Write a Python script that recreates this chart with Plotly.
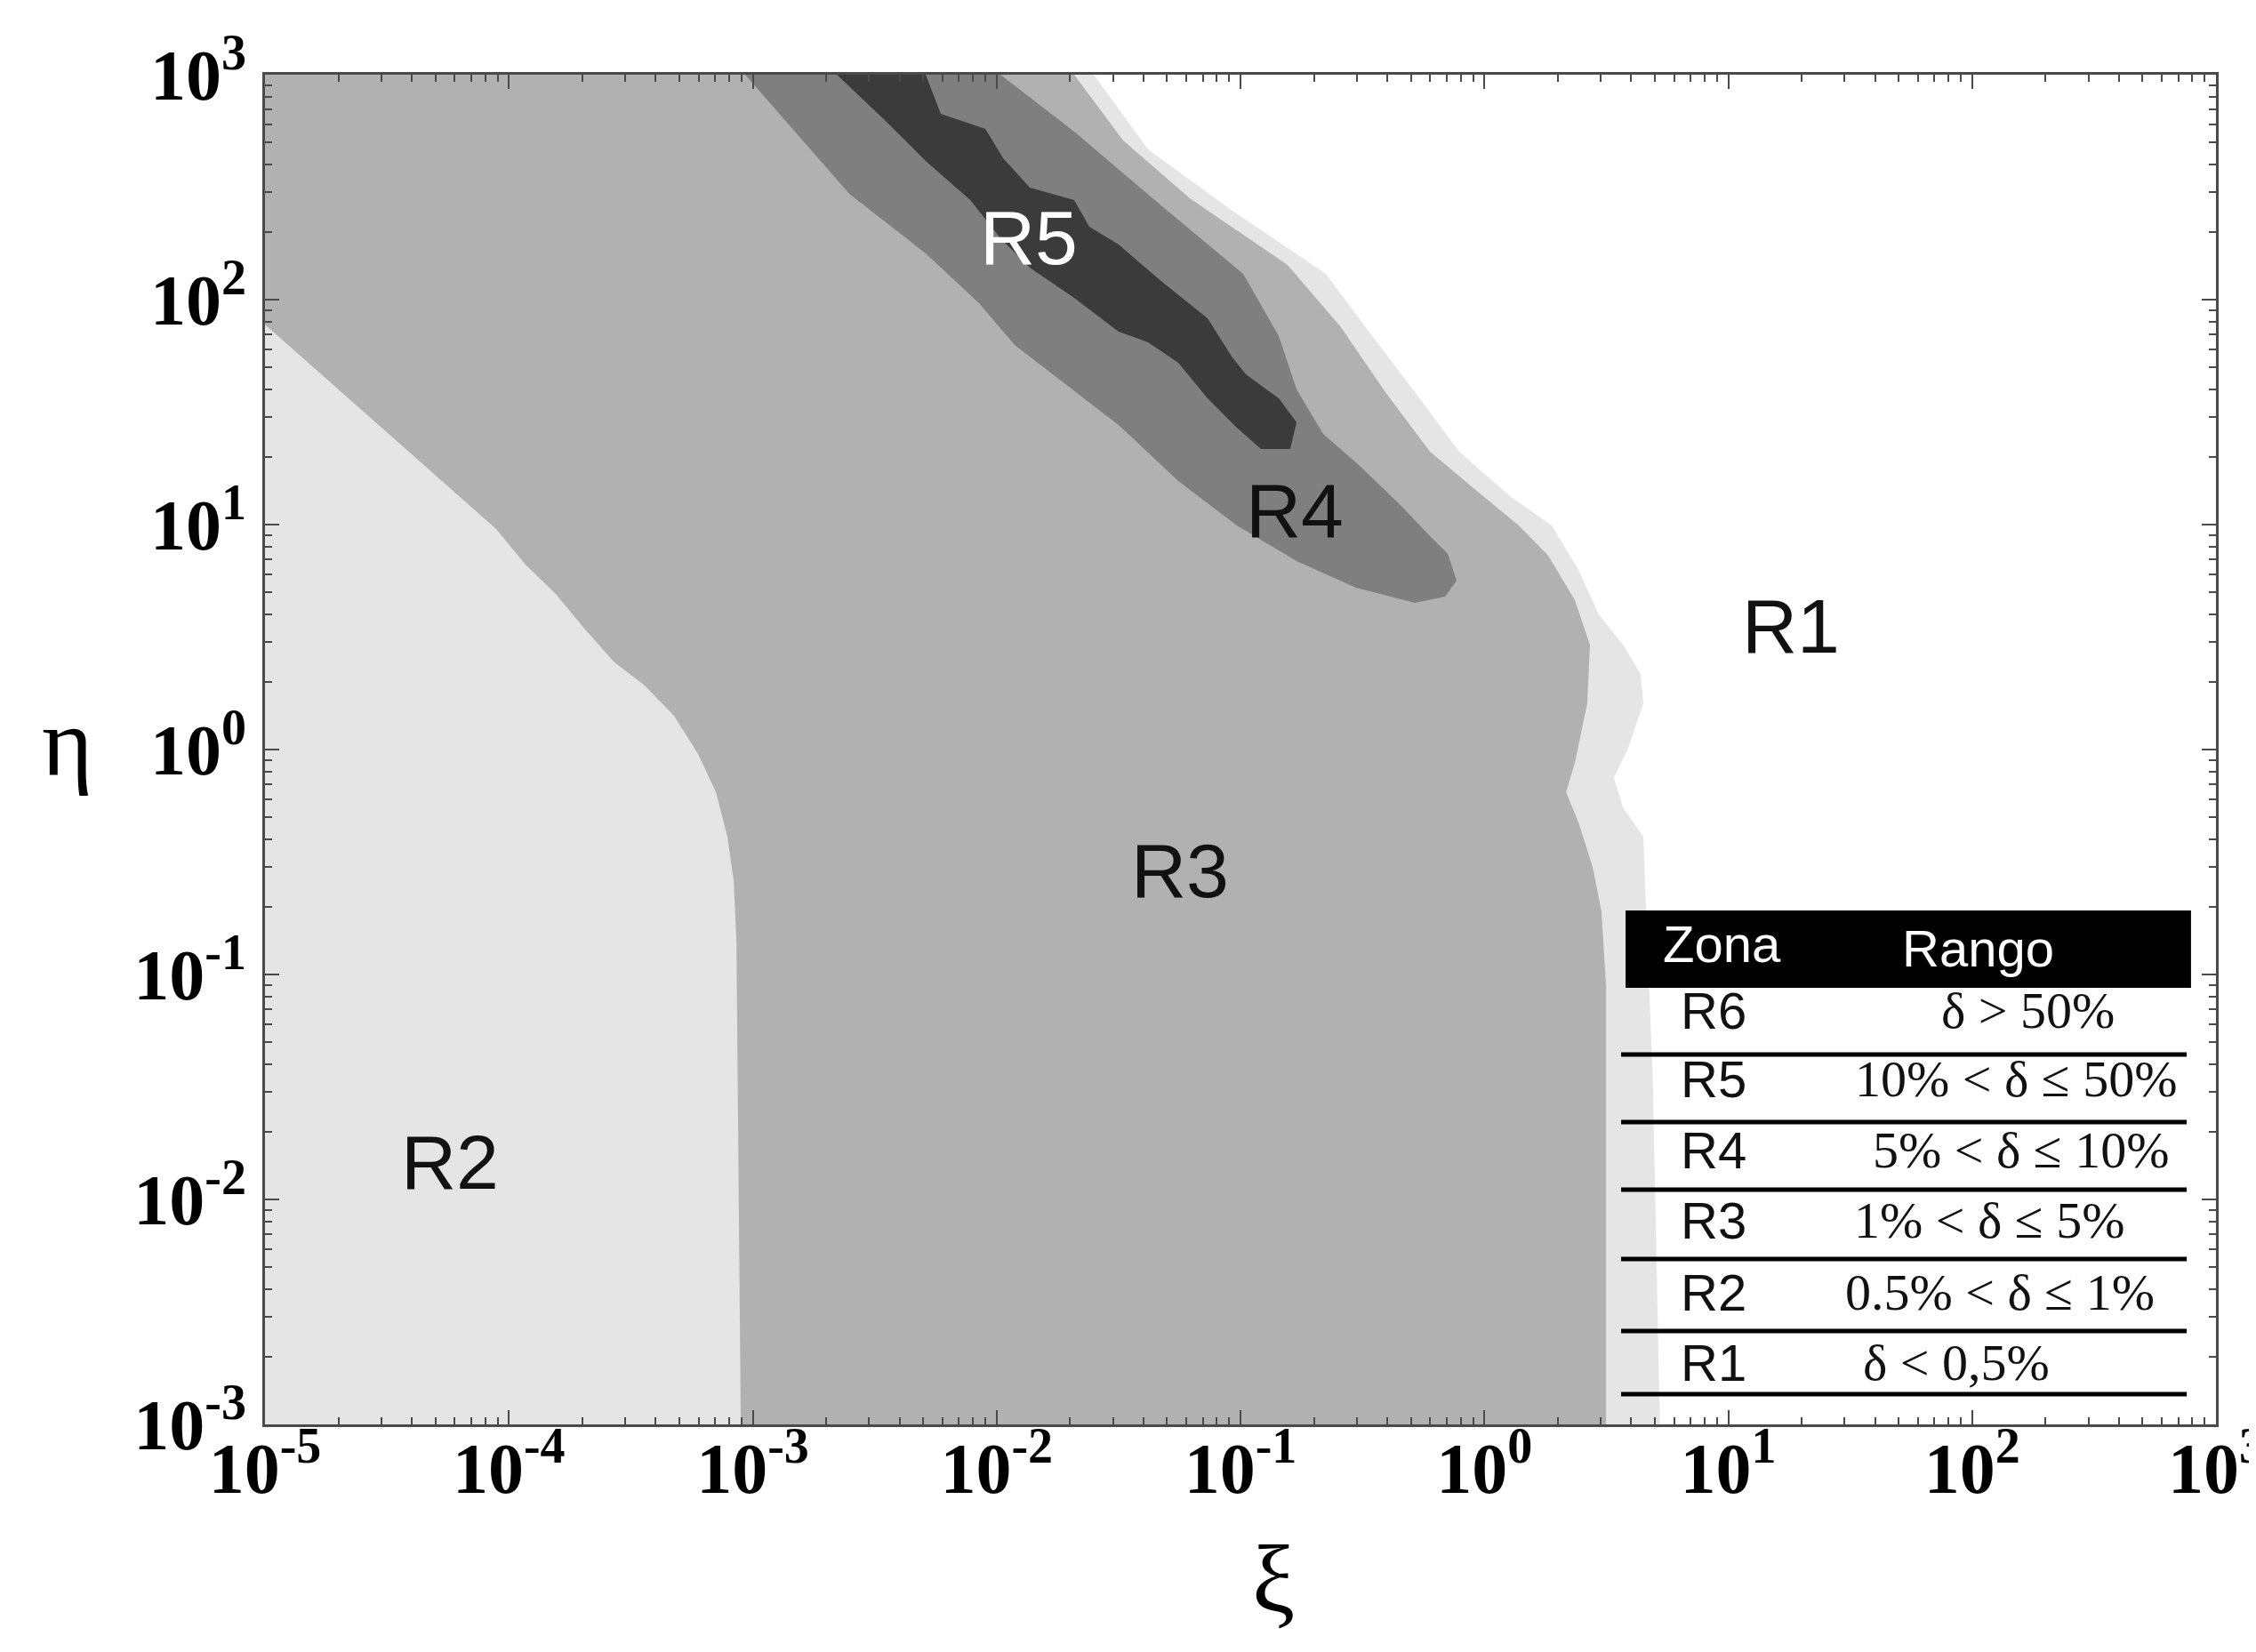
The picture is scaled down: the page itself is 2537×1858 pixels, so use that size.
import plotly.graph_objects as go

# ---------------- data (log10 of xi, log10 of eta) ----------------
# R2 / R3 boundary on the left side (top-left edge down to bottom)
b23_logxi = [-5.000, -4.526, -4.052, -3.932, -3.808, -3.687, -3.567, -3.443,
             -3.323, -3.224, -3.151, -3.104, -3.078, -3.067, -3.049]
b23_logeta = [1.889, 1.435, 0.980, 0.822, 0.692, 0.534, 0.387, 0.285,
              0.150, -0.020, -0.190, -0.387, -0.585, -0.850, -3.000]

# R3 / R2 boundary on the right side (top down to bottom)
b32_logxi = [-1.682, -1.481, -1.208, -0.807, -0.588, -0.406, -0.223, -0.005,
             0.141, 0.262, 0.371, 0.433, 0.422, 0.371, 0.335, 0.386,
             0.444, 0.480, 0.499, 0.499]
b32_logeta = [3.000, 2.708, 2.451, 2.154, 1.877, 1.589, 1.324, 1.126,
              0.996, 0.862, 0.664, 0.466, 0.206, -0.059, -0.190, -0.324,
              -0.522, -0.719, -1.047, -3.000]

# R2 / R1 boundary (top down to bottom)
b21_logxi = [-1.602, -1.379, -1.044, -0.650, -0.468, -0.285, -0.103, 0.105,
             0.276, 0.386, 0.469, 0.568, 0.641, 0.652, 0.590, 0.531,
             0.568, 0.652, 0.663, 0.690, 0.720]
b21_logeta = [3.000, 2.668, 2.403, 2.115, 1.850, 1.589, 1.324, 1.126,
              0.996, 0.798, 0.601, 0.466, 0.336, 0.206, 0.008, -0.126,
              -0.257, -0.387, -0.719, -1.443, -3.000]

# R4 band outline
r4_logxi = [-3.031, -2.812, -2.604, -2.291, -2.072, -1.926, -1.500, -1.255,
            -1.015, -0.770, -0.526, -0.285, -0.161, -0.114,
            -0.150, -0.223, -0.344, -0.515, -0.661, -0.770, -0.843, -0.989,
            -1.317, -1.682, -1.984]
r4_logeta = [3.000, 2.727, 2.470, 2.206, 1.984, 1.798, 1.443, 1.194,
             0.996, 0.838, 0.719, 0.652, 0.680, 0.751,
             0.870, 0.949, 1.087, 1.265, 1.403, 1.601, 1.838, 2.115,
             2.411, 2.747, 3.000]

# R5 core outline
r5_logxi = [-2.655, -2.459, -2.291, -2.108, -1.984, -1.864, -1.682, -1.500,
            -1.379, -1.255, -1.135, -1.015, -0.916, -0.796,
            -0.770, -0.843, -0.978, -1.036, -1.135, -1.317, -1.500, -1.620,
            -1.682, -1.864, -1.973, -2.046, -2.229, -2.291]
r5_logeta = [3.000, 2.798, 2.617, 2.443, 2.273, 2.142, 2.008, 1.858,
             1.810, 1.719, 1.561, 1.431, 1.336, 1.336,
             1.455, 1.561, 1.668, 1.747, 1.917, 2.075, 2.245, 2.324,
             2.443, 2.498, 2.628, 2.759, 2.826, 3.000]

region_colors = {"R1": "#ffffff", "R2": "#e5e5e5", "R3": "#b1b1b1",
                 "R4": "#7f7f7f", "R5": "#3b3b3b"}

# region labels
label_names = ["R1", "R2", "R3", "R4", "R5"]
label_logxi = [1.257, -4.242, -1.248, -0.778, -1.868]
label_logeta = [0.549, -1.834, -0.538, 1.063, 2.277]
label_colors = ["#111111", "#111111", "#111111", "#111111", "#ffffff"]

# table (legend)
table_zones = ["R6", "R5", "R4", "R3", "R2", "R1"]
table_ranges = ["δ > 50%", "10% < δ ≤ 50%", "5% < δ ≤ 10%",
                "1% < δ ≤ 5%", "0.5% < δ ≤ 1%", "δ < 0,5%"]

# axes
x_exps = [-5, -4, -3, -2, -1, 0, 1, 2, 3]
y_exps = [-3, -2, -1, 0, 1, 2, 3]

# ---------------- build ----------------
def p10(v):
    return [10 ** a for a in v]

XMIN, XMAX = x_exps[0], x_exps[-1]
YMIN, YMAX = y_exps[0], y_exps[-1]

fig = go.Figure()

# R2 (everything left of R2/R1 boundary)
r2x = [XMIN, XMIN] + b21_logxi
r2y = [YMIN, YMAX] + b21_logeta
fig.add_trace(go.Scatter(x=p10(r2x), y=p10(r2y), fill="toself", mode="lines",
                         line=dict(width=0), fillcolor=region_colors["R2"],
                         hoverinfo="skip"))

# R3
r3x = [XMIN] + b32_logxi + b23_logxi[::-1]
r3y = [YMAX] + b32_logeta + b23_logeta[::-1]
fig.add_trace(go.Scatter(x=p10(r3x), y=p10(r3y), fill="toself", mode="lines",
                         line=dict(width=0), fillcolor=region_colors["R3"],
                         hoverinfo="skip"))

# R4
fig.add_trace(go.Scatter(x=p10(r4_logxi), y=p10(r4_logeta), fill="toself",
                         mode="lines", line=dict(width=0),
                         fillcolor=region_colors["R4"], hoverinfo="skip"))
# R5
fig.add_trace(go.Scatter(x=p10(r5_logxi), y=p10(r5_logeta), fill="toself",
                         mode="lines", line=dict(width=0),
                         fillcolor=region_colors["R5"], hoverinfo="skip"))

# region labels
for name, lx, ly, c in zip(label_names, label_logxi, label_logeta, label_colors):
    fig.add_annotation(x=lx, y=ly, xref="x", yref="y", text=name,
                       showarrow=False, xanchor="center", yanchor="middle",
                       font=dict(family="Liberation Sans, Arial", size=86, color=c))

def tick_text(e):
    return "<b>10<sup>%d</sup></b>" % e

x_minor = [m * 10 ** k for k in x_exps[:-1] for m in range(2, 10)]
y_minor = [m * 10 ** k for k in y_exps[:-1] for m in range(2, 10)]

axis_common = dict(type="log", showgrid=False, zeroline=False,
                   showline=True, linecolor="#4a4a4a", linewidth=3,
                   mirror="allticks", ticks="inside", ticklen=16,
                   tickwidth=2, tickcolor="#4a4a4a",
                   ticklabeloverflow="allow",
                   tickfont=dict(family="Liberation Serif, Times New Roman",
                                 size=80, color="#000000"))

fig.update_xaxes(range=[XMIN, XMAX],
                 tickvals=[10 ** e for e in x_exps],
                 ticktext=[tick_text(e) for e in x_exps],
                 ticklabelstandoff=-22,
                 minor=dict(tickvals=x_minor, ticks="inside", ticklen=8,
                            tickwidth=2, tickcolor="#4a4a4a", showgrid=False),
                 **axis_common)
fig.update_yaxes(range=[YMIN, YMAX],
                 tickvals=[10 ** e for e in y_exps],
                 ticktext=[tick_text(e) for e in y_exps],
                 ticklabelstandoff=2,
                 minor=dict(tickvals=y_minor, ticks="inside", ticklen=8,
                            tickwidth=2, tickcolor="#4a4a4a", showgrid=False),
                 **axis_common)

# axis titles
fig.add_annotation(x=0.517, y=-0.114, xref="paper", yref="paper", text="ξ",
                   showarrow=False, xanchor="center", yanchor="middle",
                   font=dict(family="Liberation Serif, Times New Roman",
                             size=108, color="#000000"))
fig.add_annotation(x=-0.101, y=0.505, xref="paper", yref="paper", text="η",
                   showarrow=False, xanchor="center", yanchor="middle",
                   font=dict(family="Liberation Serif, Times New Roman",
                             size=110, color="#000000"))

# ---------------- table legend (paper coordinates) ----------------
tx0, tx1 = 0.6974, 0.9872
hy0, hy1 = 0.3235, 0.3808
fig.add_shape(type="rect", xref="paper", yref="paper", x0=tx0, x1=tx1,
              y0=hy0, y1=hy1, fillcolor="#000000", line=dict(width=0))
fig.add_annotation(x=0.747, y=0.356, xref="paper", yref="paper", text="Zona",
                   showarrow=False, xanchor="center", yanchor="middle",
                   font=dict(family="Liberation Sans, Arial", size=58, color="#ffffff"))
fig.add_annotation(x=0.878, y=0.353, xref="paper", yref="paper", text="Rango",
                   showarrow=False, xanchor="center", yanchor="middle",
                   font=dict(family="Liberation Sans, Arial", size=58, color="#ffffff"))

row_line_y = [0.2740, 0.2240, 0.1739, 0.1225, 0.0692, 0.0224]
row_text_y = [0.3067, 0.2560, 0.2033, 0.1512, 0.0979, 0.0458]
range_text_x = [0.9038, 0.8979, 0.9001, 0.8842, 0.8892, 0.8669]
for zname, rng, ly, ty, rx in zip(table_zones, table_ranges, row_line_y,
                                   row_text_y, range_text_x):
    fig.add_shape(type="line", xref="paper", yref="paper", x0=0.6951, x1=0.9850,
                  y0=ly, y1=ly, line=dict(color="#000000", width=5))
    fig.add_annotation(x=0.7247, y=ty, xref="paper", yref="paper", text=zname,
                       xanchor="left", yanchor="middle", showarrow=False,
                       font=dict(family="Liberation Sans, Arial", size=58,
                                 color="#111111"))
    fig.add_annotation(x=rx, y=ty, xref="paper", yref="paper", text=rng,
                       xanchor="center", yanchor="middle", showarrow=False,
                       font=dict(family="Liberation Serif, Times New Roman",
                                 size=58, color="#111111"))

fig.update_layout(width=2537, height=1858,
                  margin=dict(l=290, r=53, t=76, b=264, pad=0, autoexpand=False),
                  plot_bgcolor="#ffffff", paper_bgcolor="#ffffff",
                  showlegend=False)

fig.write_html("out.html")
